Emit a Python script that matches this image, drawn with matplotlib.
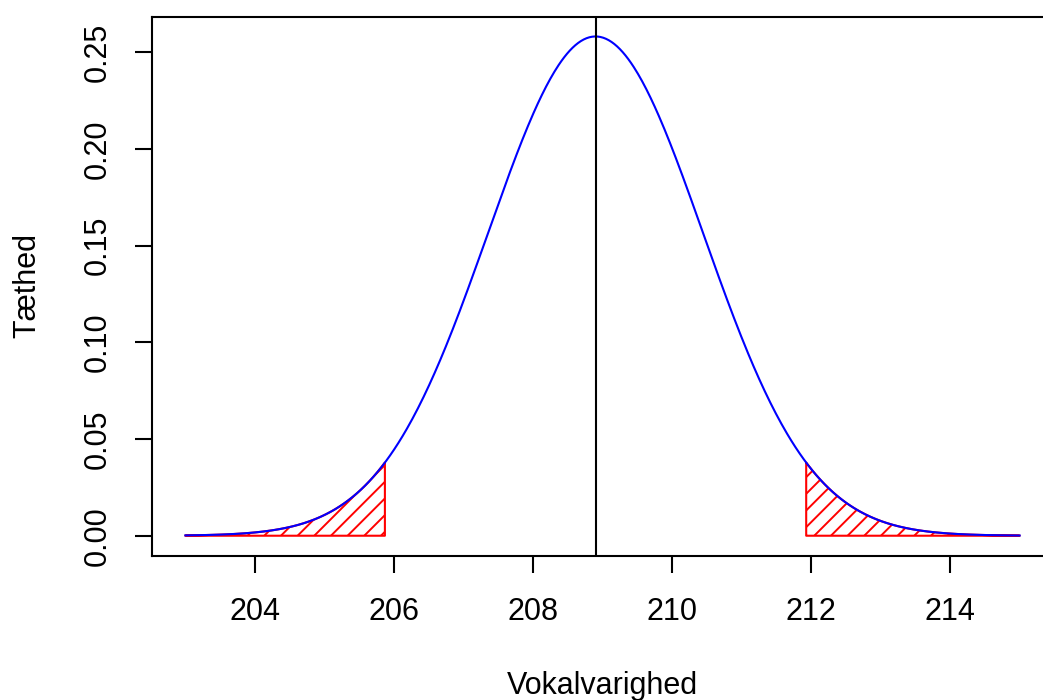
import numpy as np
import matplotlib
matplotlib.use("Agg")
import matplotlib.pyplot as plt

# --- data ---
mu = 208.9            # mean (vertical line / peak)
sigma = 1.546         # standard deviation (peak density ~0.258)
x_start, x_end = 203.0, 215.0
lower_cut = 205.87    # left shaded tail ends here
upper_cut = 211.93    # right shaded tail starts here
x_ticks = [204, 206, 208, 210, 212, 214]
y_ticks = [0.00, 0.05, 0.10, 0.15, 0.20, 0.25]
y_tick_labels = ["0.00", "0.05", "0.10", "0.15", "0.20", "0.25"]
x_label = "Vokalvarighed"
y_label = "Tæthed"

def dens(x):
    return np.exp(-0.5 * ((x - mu) / sigma) ** 2) / (sigma * np.sqrt(2 * np.pi))

plt.rcParams['font.family'] = ['Liberation Sans', 'DejaVu Sans']
plt.rcParams['hatch.linewidth'] = 1.4
plt.rcParams['hatch.color'] = 'red'

W, H = 1043, 700
fig = plt.figure(figsize=(W / 100, H / 100), dpi=100)
left_px, right_px, top_px, bot_px = 152, 1053, 16.5, 555.7
ax = fig.add_axes([left_px / W, 1 - bot_px / H, (right_px - left_px) / W, (bot_px - top_px) / H])

xs = np.linspace(x_start, x_end, 600)
ys = dens(xs)

lw = 1.5
# shaded tails
xl = np.linspace(x_start, lower_cut, 200)
ax.fill_between(xl, 0, dens(xl), facecolor='none', edgecolor='red', hatch='//', linewidth=lw)
xr = np.linspace(upper_cut, x_end, 200)
ax.fill_between(xr, 0, dens(xr), facecolor='none', edgecolor='red', hatch='//', linewidth=lw)

ax.plot(xs, ys, color='blue', linewidth=lw, zorder=3)
ax.axvline(mu, color='black', linewidth=lw, zorder=4)

xr_ = x_end - x_start
ax.set_xlim(x_start - 0.04 * xr_, x_end + 0.04 * xr_)
ymax = ys.max()
ax.set_ylim(-0.04 * ymax, ymax * 1.04)

fs = 22
ax.set_xticks(x_ticks)
ax.set_xticklabels([str(t) for t in x_ticks], fontsize=fs)
ax.set_yticks(y_ticks)
ax.set_yticklabels(y_tick_labels, fontsize=fs, rotation=90, va='center')
ax.tick_params(axis='both', length=12.5, width=lw, color='black')
ax.tick_params(axis='x', pad=17)
ax.tick_params(axis='y', pad=15.5)
for s in ax.spines.values():
    s.set_linewidth(lw)

fig.text(602 / W, 1 - 694 / H, x_label, fontsize=fs, ha='center', va='baseline')
fig.text(35 / W, 1 - 286 / H, y_label, fontsize=fs, ha='center', va='baseline',
         rotation=90, rotation_mode='anchor')

fig.savefig("out.png", dpi=100)
